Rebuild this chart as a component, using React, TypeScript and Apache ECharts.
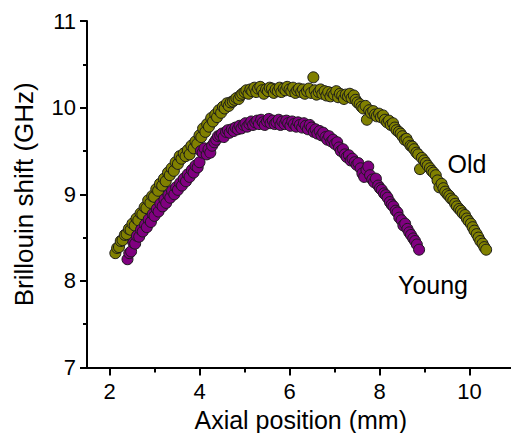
import React, { useEffect, useRef } from "react";
import * as echarts from "echarts";

const FONT = "Liberation Sans, Arial, sans-serif";

const xMajorTicks = [2, 4, 6, 8, 10];
const xMinorTicks = [3, 5, 7, 9];

const oldX = [
  2.13, 2.17, 2.21, 2.25, 2.29, 2.34, 2.38, 2.43, 2.47, 2.51, 2.56, 2.6, 2.64, 2.69, 2.73, 2.78, 2.82, 2.86, 2.91, 2.95,
  2.99, 3.04, 3.08, 3.12, 3.17, 3.21, 3.25, 3.3, 3.34, 3.38, 3.43, 3.47, 3.52, 3.56, 3.6, 3.65, 3.69, 3.74, 3.78, 3.82,
  3.87, 3.91, 3.95, 4.0, 4.04, 4.08, 4.13, 4.17, 4.21, 4.26, 4.3, 4.35, 4.39, 4.43, 4.48, 4.52, 4.56, 4.61, 4.65, 4.69,
  4.74, 4.78, 4.82, 4.87, 4.91, 4.95, 5.0, 5.04, 5.09, 5.13, 5.17, 5.22, 5.26, 5.3, 5.35, 5.39, 5.43, 5.48, 5.52, 5.56,
  5.61, 5.65, 5.69, 5.74, 5.78, 5.82, 5.87, 5.91, 5.95, 6.0, 6.04, 6.08, 6.13, 6.17, 6.21, 6.26, 6.3, 6.34, 6.39, 6.43,
  6.48, 6.53, 6.56, 6.6, 6.65, 6.69, 6.73, 6.78, 6.82, 6.86, 6.91, 6.95, 6.99, 7.04, 7.08, 7.12, 7.17, 7.21, 7.25, 7.3,
  7.34, 7.38, 7.43, 7.47, 7.51, 7.56, 7.6, 7.64, 7.69, 7.72, 7.77, 7.81, 7.86, 7.9, 7.94, 7.99, 8.03, 8.08, 8.12, 8.17,
  8.21, 8.25, 8.3, 8.34, 8.38, 8.43, 8.47, 8.51, 8.56, 8.6, 8.64, 8.69, 8.73, 8.77, 8.82, 8.86, 8.9, 8.94, 8.99, 9.03,
  9.07, 9.12, 9.16, 9.2, 9.25, 9.29, 9.33, 9.38, 9.42, 9.46, 9.51, 9.55, 9.59, 9.64, 9.68, 9.72, 9.77, 9.81, 9.85, 9.9,
  9.94, 9.98, 10.03, 10.07, 10.11, 10.16, 10.2, 10.24, 10.29, 10.33, 10.37,
];
const oldY = [
  8.32, 8.38, 8.39, 8.46, 8.47, 8.53, 8.54, 8.6, 8.59, 8.66, 8.64, 8.72, 8.7, 8.78, 8.77, 8.85, 8.84, 8.93, 8.9, 8.98,
  8.97, 9.06, 9.04, 9.12, 9.1, 9.18, 9.15, 9.25, 9.22, 9.3, 9.27, 9.37, 9.35, 9.44, 9.41, 9.47, 9.44, 9.51, 9.46, 9.56,
  9.53, 9.61, 9.58, 9.68, 9.66, 9.76, 9.72, 9.81, 9.78, 9.88, 9.84, 9.92, 9.89, 9.97, 9.94, 10.01, 9.99, 10.05, 10.02, 10.06,
  10.07, 10.09, 10.11, 10.1, 10.14, 10.16, 10.18, 10.2, 10.16, 10.21, 10.19, 10.23, 10.18, 10.22, 10.24, 10.2, 10.16, 10.21, 10.19, 10.23,
  10.22, 10.17, 10.21, 10.19, 10.23, 10.18, 10.22, 10.2, 10.24, 10.21, 10.19, 10.23, 10.17, 10.2, 10.22, 10.18, 10.21, 10.16, 10.19, 10.22,
  10.17, 10.35, 10.2, 10.15, 10.18, 10.21, 10.16, 10.19, 10.14, 10.18, 10.13, 10.17, 10.15, 10.19, 10.12, 10.16, 10.14, 10.1, 10.15, 10.13,
  10.16, 10.11, 10.14, 10.09, 10.06, 10.04, 10.01, 9.99, 10.02, 9.86, 9.97, 9.94, 9.96, 9.92, 9.9, 9.93, 9.89, 9.91, 9.86, 9.83,
  9.85, 9.8, 9.82, 9.77, 9.74, 9.72, 9.7, 9.67, 9.63, 9.64, 9.6, 9.56, 9.55, 9.52, 9.48, 9.46, 9.29, 9.42, 9.39, 9.36,
  9.33, 9.3, 9.27, 9.25, 9.22, 9.16, 9.08, 9.12, 9.07, 9.03, 9.0, 8.98, 8.95, 8.93, 8.89, 8.86, 8.83, 8.81, 8.78, 8.76,
  8.72, 8.69, 8.66, 8.62, 8.58, 8.54, 8.5, 8.46, 8.43, 8.39, 8.36,
];

const youngX = [
  2.4, 2.44, 2.48, 2.53, 2.57, 2.61, 2.66, 2.7, 2.74, 2.79, 2.83, 2.87, 2.92, 2.96, 3.0, 3.05, 3.09, 3.13, 3.18, 3.22,
  3.26, 3.31, 3.35, 3.39, 3.44, 3.48, 3.52, 3.57, 3.61, 3.65, 3.7, 3.74, 3.78, 3.83, 3.87, 3.91, 3.96, 4.0, 4.03, 4.07,
  4.11, 4.16, 4.2, 4.24, 4.28, 4.33, 4.37, 4.41, 4.46, 4.5, 4.54, 4.59, 4.63, 4.67, 4.72, 4.76, 4.8, 4.85, 4.89, 4.93,
  4.98, 5.02, 5.06, 5.11, 5.15, 5.19, 5.24, 5.28, 5.32, 5.37, 5.41, 5.45, 5.5, 5.54, 5.58, 5.63, 5.67, 5.71, 5.76, 5.8,
  5.84, 5.89, 5.93, 5.97, 6.02, 6.06, 6.1, 6.15, 6.19, 6.23, 6.28, 6.32, 6.36, 6.41, 6.45, 6.49, 6.54, 6.58, 6.62, 6.67,
  6.71, 6.75, 6.8, 6.84, 6.88, 6.93, 6.97, 7.01, 7.06, 7.1, 7.14, 7.19, 7.23, 7.27, 7.32, 7.36, 7.4, 7.45, 7.49, 7.53,
  7.58, 7.62, 7.66, 7.71, 7.75, 7.79, 7.84, 7.88, 7.92, 7.97, 8.01, 8.05, 8.1, 8.14, 8.18, 8.23, 8.27, 8.31, 8.36, 8.4,
  8.44, 8.49, 8.53, 8.57, 8.62, 8.66, 8.7, 8.75, 8.79, 8.83, 8.88,
];
const youngY = [
  8.25, 8.32, 8.34, 8.44, 8.43, 8.52, 8.51, 8.59, 8.57, 8.65, 8.62, 8.71, 8.68, 8.77, 8.75, 8.83, 8.8, 8.89, 8.86, 8.94,
  8.9, 8.99, 8.96, 9.04, 9.0, 9.08, 9.05, 9.13, 9.1, 9.18, 9.15, 9.23, 9.2, 9.28, 9.25, 9.33, 9.31, 9.37, 9.5, 9.48,
  9.53, 9.46, 9.52, 9.48, 9.56, 9.6, 9.63, 9.67, 9.68, 9.7, 9.66, 9.72, 9.74, 9.71, 9.75, 9.73, 9.77, 9.75, 9.79, 9.76,
  9.8, 9.82, 9.78, 9.81, 9.84, 9.8, 9.83, 9.85, 9.81, 9.86, 9.83, 9.8, 9.84, 9.87, 9.82, 9.85, 9.81, 9.83, 9.86, 9.8,
  9.84, 9.81, 9.85, 9.82, 9.79, 9.84, 9.81, 9.78, 9.83, 9.8, 9.77, 9.82, 9.79, 9.75, 9.8, 9.77, 9.72, 9.75, 9.7, 9.73,
  9.68, 9.71, 9.66, 9.63, 9.67, 9.61, 9.63, 9.58, 9.6, 9.54, 9.5, 9.52, 9.46, 9.43, 9.45, 9.39, 9.41, 9.37, 9.34, 9.36,
  9.3, 9.24, 9.2, 9.28, 9.32, 9.22, 9.17, 9.14, 9.18, 9.1, 9.07, 9.05, 9.01, 8.99, 8.96, 8.91, 8.88, 8.86, 8.81, 8.79,
  8.73, 8.7, 8.64, 8.66, 8.6, 8.56, 8.53, 8.49, 8.46, 8.42, 8.36,
];

const seriesNames = ["Old", "Young"];
const seriesColors = ["#808000", "#800080"];

const axisLineStyle = { color: "#000", width: 2 };

export default function App() {
  const ref = useRef<HTMLDivElement>(null);
  useEffect(() => {
    if (!ref.current) return;
    const chart = echarts.init(ref.current, null, { renderer: "svg" });
    const oldData = oldX.map((x, i) => [x, oldY[i]]);
    const youngData = youngX.map((x, i) => [x, youngY[i]]);
    chart.setOption({
      animation: false,
      backgroundColor: "#fff",
      grid: {
        left: 87,
        top: 21,
        width: 427.5,
        height: 346.5,
        containLabel: false,
        outerBoundsMode: "none",
      },
      xAxis: [
        {
          type: "value",
          min: 1.5,
          max: 11,
          position: "bottom",
          axisLine: { show: true, lineStyle: axisLineStyle },
          axisTick: { show: true, customValues: xMajorTicks, length: 8, lineStyle: axisLineStyle },
          axisLabel: {
            customValues: xMajorTicks,
            fontSize: 22,
            color: "#000",
            fontFamily: FONT,
            margin: 13,
          },
          splitLine: { show: false },
          name: "Axial position (mm)",
          nameLocation: "middle",
          nameGap: 38,
          nameTextStyle: { fontSize: 25, color: "#000", fontFamily: FONT, lineHeight: 25 },
        },
        {
          type: "value",
          min: 1.5,
          max: 11,
          position: "bottom",
          axisLine: { show: false },
          axisTick: { show: true, customValues: xMinorTicks, length: 5, lineStyle: axisLineStyle },
          axisLabel: { show: false },
          splitLine: { show: false },
        },
      ],
      yAxis: {
        type: "value",
        min: 7,
        max: 11,
        interval: 1,
        axisLine: { show: true, lineStyle: axisLineStyle },
        axisTick: { show: true, length: 7, lineStyle: axisLineStyle },
        minorTick: { show: true, splitNumber: 2, length: 4, lineStyle: axisLineStyle },
        axisLabel: { fontSize: 22, color: "#000", fontFamily: FONT, margin: 11 },
        splitLine: { show: false },
        name: "Brillouin shift (GHz)",
        nameLocation: "middle",
        nameGap: 50,
        nameTextStyle: { fontSize: 26, color: "#000", fontFamily: FONT },
      },
      series: [
        {
          name: seriesNames[0],
          type: "scatter",
          data: oldData,
          symbol: "circle",
          symbolSize: 11,
          itemStyle: { color: seriesColors[0], borderColor: "#1a1a1a", borderWidth: 1, opacity: 1 },
        },
        {
          name: seriesNames[1],
          type: "scatter",
          data: youngData,
          symbol: "circle",
          symbolSize: 11,
          itemStyle: { color: seriesColors[1], borderColor: "#1a1a1a", borderWidth: 1, opacity: 1 },
        },
      ],
      graphic: [
        {
          type: "text",
          x: 467,
          y: 164,
          style: {
            text: seriesNames[0],
            fontSize: 25,
            fontFamily: FONT,
            fill: "#000",
            textAlign: "center",
            textVerticalAlign: "middle",
          },
        },
        {
          type: "text",
          x: 433,
          y: 285,
          style: {
            text: seriesNames[1],
            fontSize: 25,
            fontFamily: FONT,
            fill: "#000",
            textAlign: "center",
            textVerticalAlign: "middle",
          },
        },
      ],
    });
    return () => chart.dispose();
  }, []);
  return (
    <div
      ref={ref}
      style={{ position: "fixed", left: 0, top: 0, width: 511, height: 433 }}
    />
  );
}
